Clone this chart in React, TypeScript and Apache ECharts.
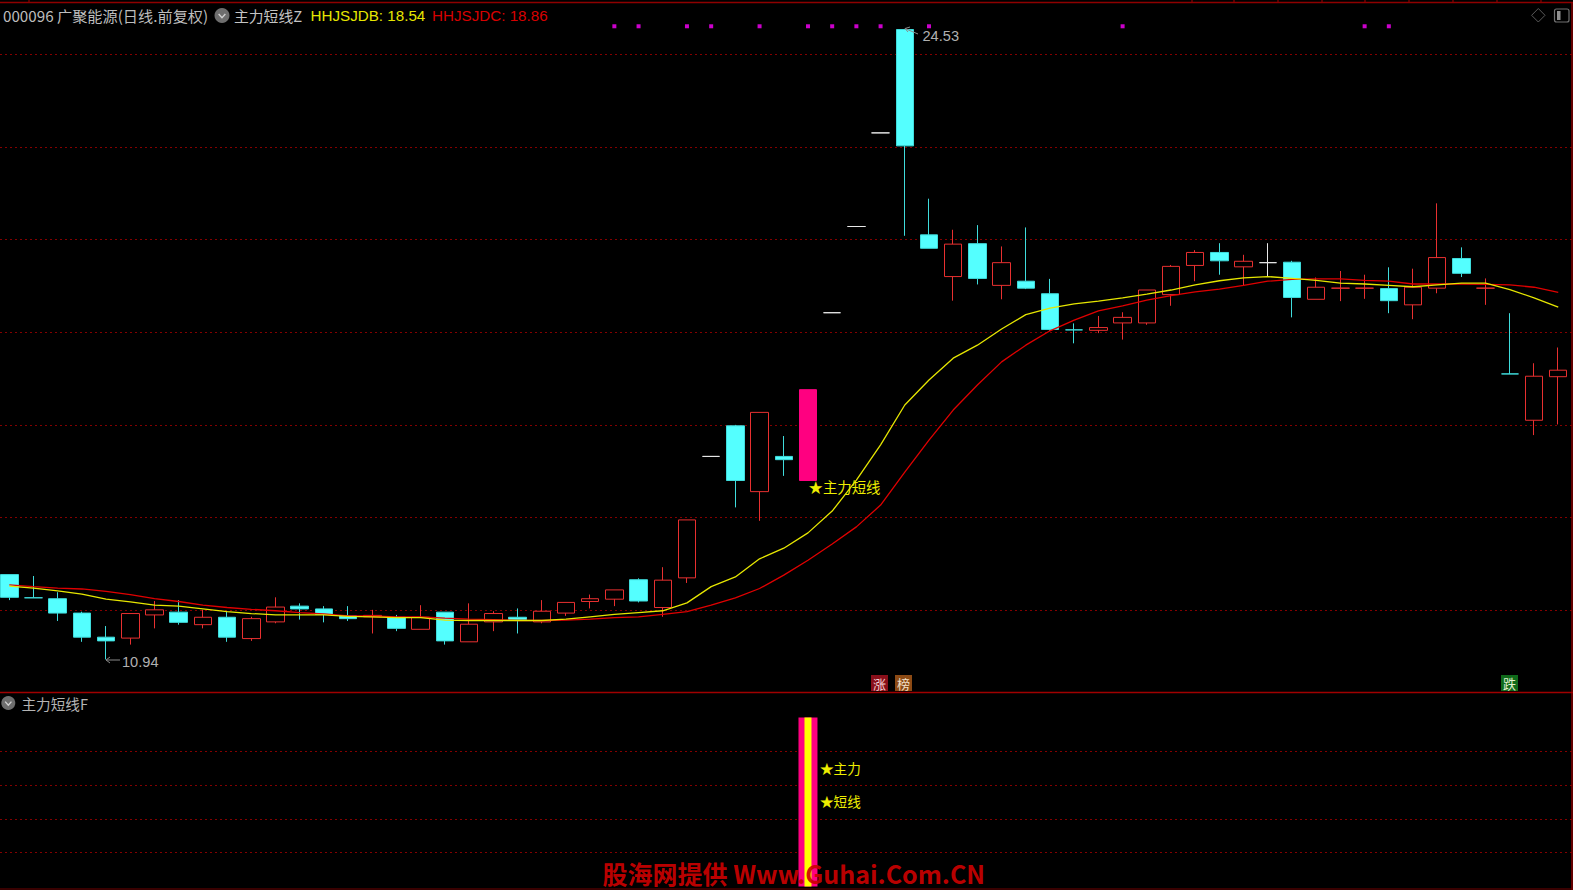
import React, { useEffect, useRef } from "react";
import * as echarts from "echarts";

const opens = [
  12.77, 12.27, 12.25, 11.94, 11.42, 11.40, 11.90, 11.96, 11.69, 11.85,
  11.39, 11.75, 12.09, 12.03, 11.88, 11.86, 11.85, 11.59, 11.96, 11.32,
  11.75, 11.85, 11.75, 11.94, 12.19, 12.24, 12.66, 12.06, 12.70, 15.32,
  15.98, 14.56, 15.32, 14.80, 18.42, 20.28, 22.30, 24.53, 20.10, 19.20,
  19.91, 19.01, 19.10, 18.83, 18.05, 18.04, 18.20, 18.20, 18.81, 19.44,
  19.72, 19.41, 19.50, 19.51, 18.71, 18.95, 18.95, 18.94, 18.59, 18.95,
  19.59, 18.95, 17.10, 16.10, 17.04,
];
const closes = [
  12.28, 12.27, 11.94, 11.42, 11.34, 11.93, 12.01, 11.74, 11.85, 11.42,
  11.82, 12.07, 12.03, 11.91, 11.82, 11.89, 11.61, 11.85, 11.34, 11.70,
  11.93, 11.80, 11.98, 12.17, 12.25, 12.44, 12.20, 12.65, 13.95, 15.32,
  14.80, 16.27, 15.25, 16.76, 18.42, 20.28, 22.30, 22.02, 19.81, 19.90,
  19.16, 19.50, 18.95, 18.06, 18.05, 18.10, 18.32, 18.91, 19.42, 19.72,
  19.54, 19.53, 19.50, 18.75, 18.97, 18.95, 18.95, 18.68, 18.97, 19.61,
  19.27, 18.95, 17.10, 17.05, 17.18,
];
const lows = [
  12.22, 12.27, 11.77, 11.32, 10.94, 11.26, 11.61, 11.69, 11.61, 11.32,
  11.34, 11.72, 11.80, 11.74, 11.77, 11.50, 11.55, 11.59, 11.26, 11.32,
  11.55, 11.50, 11.72, 11.88, 12.04, 12.09, 12.17, 11.86, 12.59, 15.32,
  14.22, 13.93, 14.90, 14.80, 18.42, 20.28, 22.30, 20.08, 19.81, 18.68,
  19.03, 18.71, 18.93, 18.03, 17.76, 17.98, 17.84, 18.16, 18.57, 19.10,
  19.24, 19.01, 19.20, 18.32, 18.71, 18.67, 18.72, 18.41, 18.28, 18.84,
  19.19, 18.59, 17.10, 15.78, 16.01,
];
const highs = [
  12.77, 12.74, 12.39, 11.97, 11.66, 11.93, 12.20, 12.22, 12.01, 11.97,
  11.86, 12.28, 12.15, 12.09, 12.09, 12.01, 11.90, 12.11, 11.96, 12.15,
  11.98, 12.04, 12.22, 12.17, 12.34, 12.44, 12.69, 12.93, 13.95, 15.32,
  16.00, 16.27, 15.76, 16.76, 18.42, 20.28, 22.30, 24.53, 20.88, 20.21,
  20.31, 19.85, 20.26, 19.15, 18.19, 18.35, 18.43, 18.91, 19.45, 19.77,
  19.92, 19.67, 19.92, 19.54, 19.18, 19.32, 19.24, 19.40, 19.37, 20.78,
  19.83, 19.16, 18.41, 17.33, 17.67,
];
const hhjsjdb = [
  12.52, 12.48, 12.42, 12.35, 12.24, 12.18, 12.11, 12.09, 12.03, 11.97,
  11.93, 11.90, 11.90, 11.90, 11.87, 11.86, 11.84, 11.84, 11.79, 11.78,
  11.78, 11.78, 11.78, 11.81, 11.86, 11.91, 11.95, 11.99, 12.16, 12.51,
  12.72, 13.11, 13.34, 13.67, 14.14, 14.81, 15.57, 16.43, 16.97, 17.44,
  17.72, 18.07, 18.38, 18.52, 18.61, 18.67, 18.74, 18.82, 18.91, 19.02,
  19.11, 19.17, 19.20, 19.16, 19.12, 19.06, 19.04, 19.01, 18.98, 19.02,
  19.06, 19.06, 18.92, 18.74, 18.54,
];
const hhjsjdc = [
  12.55, 12.51, 12.48, 12.46, 12.41, 12.34, 12.25, 12.19, 12.11, 12.06,
  12.02, 11.99, 11.95, 11.92, 11.88, 11.88, 11.86, 11.86, 11.83, 11.81,
  11.80, 11.78, 11.78, 11.79, 11.81, 11.84, 11.86, 11.91, 11.97, 12.11,
  12.27, 12.47, 12.76, 13.08, 13.43, 13.80, 14.27, 14.98, 15.67, 16.32,
  16.86, 17.36, 17.72, 18.03, 18.26, 18.46, 18.57, 18.69, 18.79, 18.87,
  18.93, 19.01, 19.10, 19.14, 19.15, 19.15, 19.12, 19.10, 19.04, 19.04,
  19.04, 19.03, 19.02, 18.97, 18.86,
];
const signalIndexes = [25, 26, 28, 29, 31, 33, 34, 35, 36, 38, 46, 56, 57];
const signalLevel = 24.6;
const whiteCandles = [29, 34, 35, 36, 52];
const cyanDoji = [1, 44, 62];
const highlightCandle = 33;
const lowerBarIndex = 33;
const lowerBarValue = 50;
const topTicks = [29, 1192, 1234, 1278, 1322, 1365, 1409, 1453, 1497, 1541];

const UI = "'Noto Sans CJK SC','Liberation Sans',sans-serif";
const LAT = "'Liberation Sans',Arial,sans-serif";
const X_MIN = -0.3843;
const X_MAX = 64.6095;
const CYAN = "#54FFFF";
const RED = "#E83030";
const PINK = "#FF0080";

function candleStyle(i: number) {
  let fill = "#000000";
  let border = RED;
  if (i === highlightCandle) {
    fill = PINK;
    border = PINK;
  } else if (whiteCandles.includes(i)) {
    fill = "#E8E8E8";
    border = "#E8E8E8";
  } else if (opens[i] > closes[i] || cyanDoji.includes(i)) {
    fill = CYAN;
    border = "#3FDCDC";
  }
  return { color: fill, color0: fill, borderColor: border, borderColor0: border, borderWidth: 1 };
}

function txt(text: string, x: number, y: number, fill: string, size: number, font = UI, weight = "normal") {
  return {
    type: "text",
    x,
    y,
    silent: true,
    z: 20,
    style: { text, fill, fontSize: size, fontFamily: font, fontWeight: weight, textVerticalAlign: "middle" },
  };
}

function badge(x: number, bg: string, ch: string, fg: string) {
  return [
    { type: "rect", shape: { x, y: 675, width: 17, height: 16 }, style: { fill: bg }, z: 20, silent: true },
    {
      type: "text",
      x: x + 8.5,
      y: 683,
      z: 21,
      silent: true,
      style: { text: ch, fill: fg, fontSize: 13, fontFamily: UI, textAlign: "center", textVerticalAlign: "middle" },
    },
  ];
}

function chevronIcon(cx: number, cy: number, r: number) {
  return [
    { type: "circle", shape: { cx, cy, r }, style: { fill: "#6E6E6E" }, z: 20, silent: true },
    {
      type: "polyline",
      shape: { points: [[cx - r * 0.45, cy - r * 0.2], [cx, cy + r * 0.3], [cx + r * 0.45, cy - r * 0.2]] },
      style: { stroke: "#D0D0D0", lineWidth: 1.4, fill: "none" },
      z: 21,
      silent: true,
    },
  ];
}

function seg(x1: number, y1: number, x2: number, y2: number, stroke: string, lineWidth = 1) {
  return { type: "line", shape: { x1, y1, x2, y2 }, style: { stroke, lineWidth }, z: 20, silent: true };
}

export default function App() {
  const ref = useRef<HTMLDivElement>(null);
  useEffect(() => {
    const chart = echarts.init(ref.current!, null, { renderer: "svg" });
    const candleData = opens.map((o, i) => ({
      value: [i, o, closes[i], lows[i], highs[i]],
      itemStyle: candleStyle(i),
    }));
    const hiddenX = (gridIndex: number) => ({
      type: "value",
      min: X_MIN,
      max: X_MAX,
      gridIndex,
      show: false,
    });
    const splitLine = { show: true, showMinLine: false, showMaxLine: false, lineStyle: { color: "#840000", width: 1, type: [2, 3] } };
    const silentAxis = { axisLine: { show: false }, axisTick: { show: false }, axisLabel: { show: false } };

    chart.setOption({
      animation: false,
      backgroundColor: "#000000",
      grid: [
        { left: 0, width: 1573, top: 3.1, height: 699.9, containLabel: false },
        { left: 0, width: 1573, top: 717.4, height: 169, containLabel: false },
      ],
      xAxis: [hiddenX(0), hiddenX(1), hiddenX(1)],
      yAxis: [
        { type: "value", gridIndex: 0, min: 10, max: 25.1, interval: 2, splitLine, ...silentAxis },
        { type: "value", gridIndex: 1, min: 0, max: 50, interval: 10, splitLine, ...silentAxis },
      ],
      series: [
        {
          name: "K",
          type: "candlestick",
          xAxisIndex: 0,
          yAxisIndex: 0,
          barWidth: 18,
          data: candleData,
          clip: false,
          z: 2,
        },
        {
          name: "HHJSJDC",
          type: "line",
          xAxisIndex: 0,
          yAxisIndex: 0,
          data: hhjsjdc.map((v, i) => [i, v]),
          symbol: "none",
          lineStyle: { color: "#E00000", width: 1.3 },
          z: 3,
        },
        {
          name: "HHJSJDB",
          type: "line",
          xAxisIndex: 0,
          yAxisIndex: 0,
          data: hhjsjdb.map((v, i) => [i, v]),
          symbol: "none",
          lineStyle: { color: "#E6E600", width: 1.3 },
          z: 4,
        },
        {
          name: "signal",
          type: "scatter",
          xAxisIndex: 0,
          yAxisIndex: 0,
          symbol: "rect",
          symbolSize: 4,
          data: signalIndexes.map((i) => [i, signalLevel]),
          itemStyle: { color: "#FF00FF" },
          z: 5,
        },
        {
          name: "F",
          type: "bar",
          xAxisIndex: 1,
          yAxisIndex: 1,
          barWidth: 19,
          data: [[lowerBarIndex, lowerBarValue]],
          itemStyle: { color: PINK },
          z: 2,
        },
        {
          name: "F2",
          type: "bar",
          xAxisIndex: 2,
          yAxisIndex: 1,
          barWidth: 7,
          data: [[lowerBarIndex, lowerBarValue]],
          itemStyle: { color: "#FFFF00" },
          z: 3,
        },
      ],
      graphic: [
        seg(0, 2.5, 1573, 2.5, "#8E0000", 1.6),
        ...topTicks.map((x) => seg(x, 0, x, 2.5, "#8E0000", 1.2)),
        seg(1572, 2, 1572, 890, "#8E0000", 1.4),
        seg(0, 692.5, 1573, 692.5, "#A00000", 1.4),
        seg(0, 889, 1573, 889, "#700000", 1),

        txt("000096 广聚能源(日线.前复权)", 3, 15.2, "#BDBDBD", 15.2),
        ...chevronIcon(222, 15.5, 7.5),
        txt("主力短线Z", 234, 15.2, "#C4C4C4", 14.8),
        txt("HHJSJDB: 18.54", 310.5, 15.2, "#E6E600", 15.2, LAT),
        txt("HHJSJDC: 18.86", 432, 15.2, "#D80000", 15.2, LAT),

        {
          type: "polygon",
          shape: { points: [[1538.3, 8.5], [1545, 15.3], [1538.3, 22], [1531.6, 15.3]] },
          style: { stroke: "#5A5A5A", fill: "none", lineWidth: 1 },
          z: 20,
          silent: true,
        },
        {
          type: "rect",
          shape: { x: 1554.5, y: 9, width: 14.5, height: 13, r: 2 },
          style: { stroke: "#707070", fill: "none", lineWidth: 1.2 },
          z: 20,
          silent: true,
        },
        { type: "rect", shape: { x: 1557, y: 11, width: 3.5, height: 9 }, style: { fill: "#909090" }, z: 20, silent: true },

        seg(905, 28.5, 918, 34, "#8A8A8A", 1),
        seg(905, 28.5, 910, 27, "#8A8A8A", 1),
        seg(905, 28.5, 908, 32, "#8A8A8A", 1),
        txt("24.53", 922.5, 35.7, "#B0B0B0", 14.6, LAT),
        seg(106, 660, 120, 660, "#8A8A8A", 1),
        seg(106, 660, 110, 657, "#8A8A8A", 1),
        seg(106, 660, 110, 663, "#8A8A8A", 1),
        txt("10.94", 122, 661.7, "#B0B0B0", 14.6, LAT),

        txt("★主力短线", 808.5, 486, "#EEEE00", 14.4),
        txt("★主力", 820, 767.5, "#EEEE00", 13.6),
        txt("★短线", 820, 800.7, "#EEEE00", 13.6),

        ...badge(871, "#8A0F1A", "涨", "#F2D0D0"),
        ...badge(895, "#8C4A14", "榜", "#F2E0C8"),
        ...badge(1501, "#0F6A1A", "跌", "#E0F0D0"),

        ...chevronIcon(8.3, 703, 7),
        txt("主力短线F", 21.5, 703, "#B4B4B4", 14.6),

        {
          type: "text",
          x: 602.5,
          y: 872.5,
          z: 30,
          silent: true,
          style: {
            text: "股海网提供 Www.Guhai.Com.CN",
            fill: "rgba(205,0,0,0.93)",
            fontSize: 25,
            fontWeight: "bold",
            fontFamily: UI,
            textVerticalAlign: "middle",
          },
        },
      ],
    });
    return () => chart.dispose();
  }, []);
  return <div ref={ref} style={{ position: "fixed", left: 0, top: 0, width: 1573, height: 890, background: "#000" }} />;
}
